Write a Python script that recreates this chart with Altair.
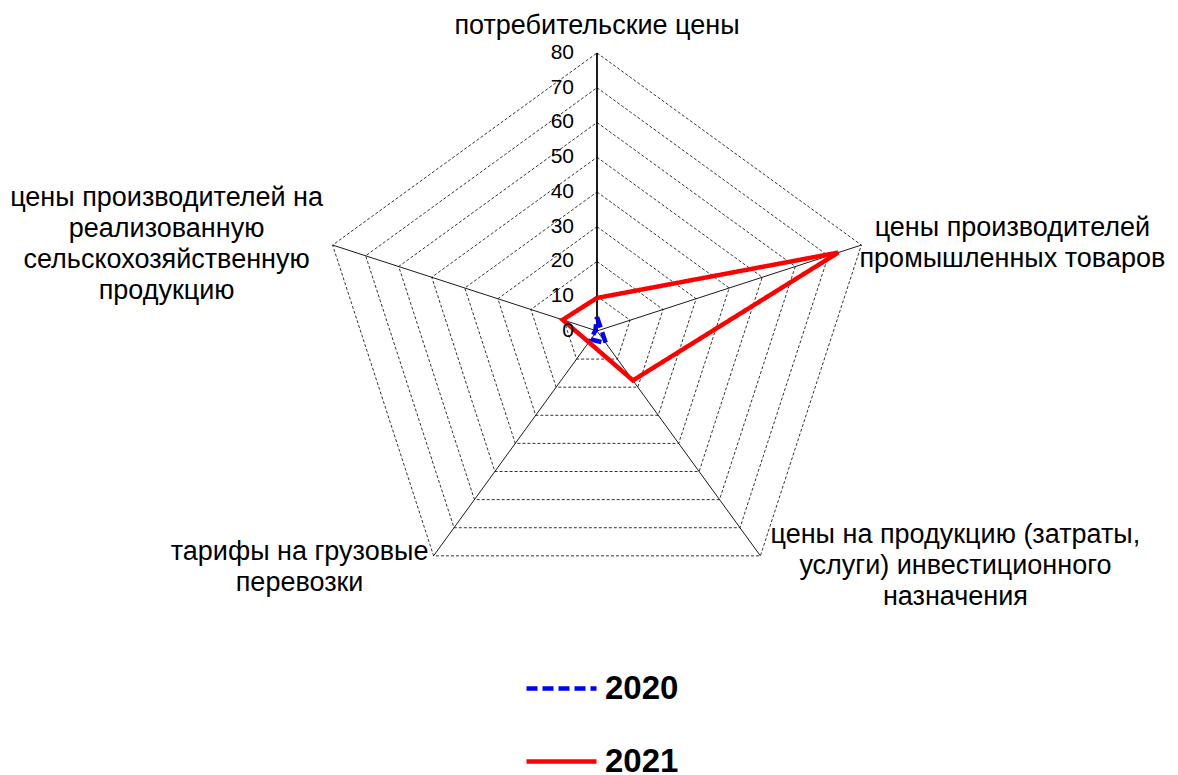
import altair as alt
import pandas as pd

categories = [
    "потребительские цены",
    "цены производителей промышленных товаров",
    "цены на продукцию (затраты, услуги) инвестиционного назначения",
    "тарифы на грузовые перевозки",
    "цены производителей на реализованную сельскохозяйственную продукцию",
]
category_labels = [
    "потребительские цены",
    "цены производителей\nпромышленных товаров",
    "цены на продукцию (затраты,\nуслуги) инвестиционного\nназначения",
    "тарифы на грузовые\nперевозки",
    "цены производителей на\nреализованную\nсельскохозяйственную\nпродукцию",
]
years = ["2020", "2021"]
values_2020 = [4.0, 1.3, 4.3, 3.0, 0.5]
values_2021 = [9.5, 73.0, 17.6, 4.0, 10.4]
ticks = [0, 10, 20, 30, 40, 50, 60, 70, 80]
r_max = 80

n = len(categories)

# closed polygons for the series
series_rows = []
for year, vals in zip(years, [values_2020, values_2021]):
    for k in range(n + 1):
        series_rows.append({"year": year, "k": k % n, "ord": k, "value": vals[k % n]})
series_df = pd.DataFrame(series_rows)

ring_df = pd.DataFrame(
    [{"ring": t, "k": k % n, "ord": k, "value": t} for t in ticks[1:] for k in range(n + 1)]
)
spoke_df = pd.DataFrame(
    [{"spoke": i, "k": i, "ord": j, "value": v} for i in range(n) for j, v in enumerate([0, r_max])]
)
tick_df = pd.DataFrame({"k": [0] * len(ticks), "value": ticks, "label": [str(t) for t in ticks]})
label_df = pd.DataFrame({"k": list(range(n)), "value": [r_max] * n, "label": category_labels})

angle_expr = f"PI/2 - datum.k * 2 * PI / {n}"

xscale = alt.Scale(domain=[-169.5, 164.9], nice=False, zero=False)
yscale = alt.Scale(domain=[-127.8, 92.95], nice=False, zero=False)


def polar(chart):
    return chart.transform_calculate(
        ang=angle_expr
    ).transform_calculate(
        px="datum.value * cos(datum.ang)", py="datum.value * sin(datum.ang)"
    )


X = alt.X("px:Q", scale=xscale, axis=None)
Y = alt.Y("py:Q", scale=yscale, axis=None)

rings = polar(alt.Chart(ring_df)).mark_line(
    color="black", strokeWidth=0.8, strokeDash=[3, 2]
).encode(x=X, y=Y, detail="ring:N", order="ord:Q")

spokes = polar(alt.Chart(spoke_df)).mark_line(color="black", strokeWidth=0.9).encode(
    x=X, y=Y, detail="spoke:N", order="ord:Q"
)

main_axis = polar(alt.Chart(spoke_df)).transform_filter("datum.spoke == 0").mark_line(
    color="black", strokeWidth=1.6
).encode(x=X, y=Y, order="ord:Q")

legend = alt.Legend(
    title=None,
    orient="none",
    legendX=516,
    legendY=643,
    direction="vertical",
    symbolType="stroke",
    symbolSize=4900,
    symbolStrokeWidth=4.5,
    labelFontSize=33,
    labelFontWeight="bold",
    labelFont="Liberation Sans",
    labelColor="black",
    labelOffset=6,
    rowPadding=18,
    padding=0,
)

series = polar(alt.Chart(series_df)).mark_line(strokeWidth=4.5).encode(
    x=X,
    y=Y,
    color=alt.Color("year:N", scale=alt.Scale(domain=years, range=["#0000FF", "#FF0000"]), legend=legend),
    strokeDash=alt.StrokeDash("year:N", scale=alt.Scale(domain=years, range=[[11, 5], [1, 0]]), legend=legend),
    order="ord:Q",
)

tick_labels = polar(alt.Chart(tick_df)).mark_text(
    align="right", baseline="middle", dx=-23, fontSize=21, font="Liberation Sans", color="black"
).encode(x=X, y=Y, text="label:N")

line_h = 31
label_offsets = [(0, -27), (151, -2), (195, 10), (-134, 12), (-166, -1)]
label_layers = []
for i, (ddx, ddy) in enumerate(label_offsets):
    nlines = category_labels[i].count("\n") + 1
    label_layers.append(
        polar(alt.Chart(label_df)).transform_filter(f"datum.k == {i}").mark_text(
            align="center", baseline="middle", dx=ddx, dy=ddy - (nlines - 1) * line_h / 2,
            fontSize=27, font="Liberation Sans", color="black", lineBreak="\n", lineHeight=line_h
        ).encode(x=X, y=Y, text="label:N")
    )

chart = alt.layer(rings, spokes, main_axis, series, tick_labels, *label_layers).properties(
    width=1162, height=767, autosize=alt.AutoSizeParams(type="none"), padding=0
).configure_view(stroke=None)

chart.save("out.html", embed_options={"renderer": "svg", "actions": False})
